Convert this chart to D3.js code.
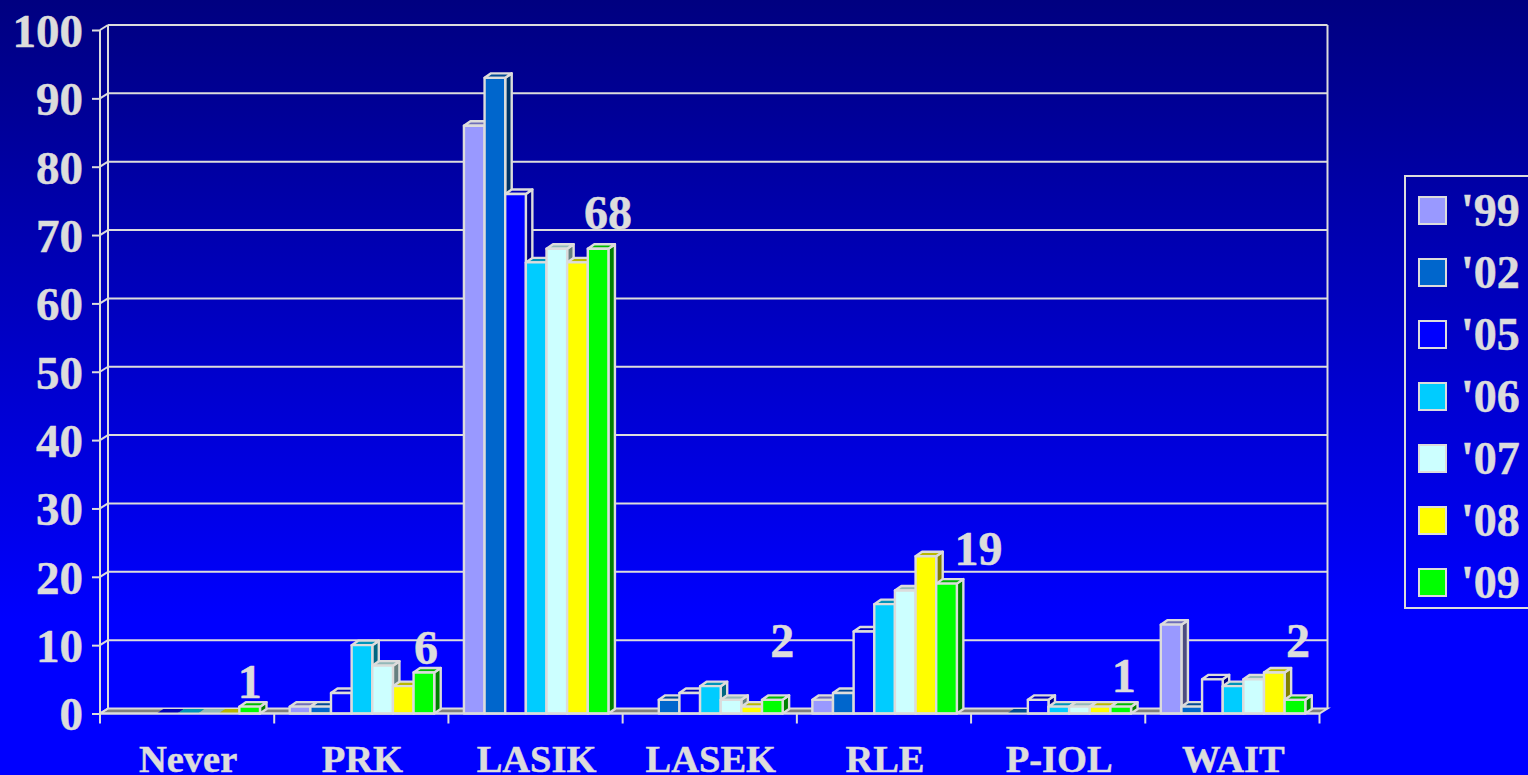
<!DOCTYPE html>
<html><head><meta charset="utf-8">
<script src="https://cdn.jsdelivr.net/npm/d3@7"></script>
<style>html,body{margin:0;padding:0;overflow:hidden;background:#00f}svg{display:block}text{stroke:#dcdcdc;stroke-width:.5px}</style>
</head><body><svg id="c" width="1528" height="775"></svg>
<script>
const categories = ["Never","PRK","LASIK","LASEK","RLE","P-IOL","WAIT"];
const seriesNames = ["'99","'02","'05","'06","'07","'08","'09"];
const seriesColors = ["#9999ff","#0066cc","#0000ff","#00ccff","#ccffff","#ffff00","#00ff00"];
const v99 = [null,1,86,null,2,null,13];
const v02 = [null,1,93,2,3,0,1];
const v05 = [0,3,76,3,12,2,5];
const v06 = [0,10,66,4,16,1,4];
const v07 = [0,7,68,2,18,1,5];
const v08 = [0,4,66,1,23,1,6];
const v09 = [1,6,68,2,19,1,2];
const allSeries = [v99,v02,v05,v06,v07,v08,v09];
const yTicks = [0,10,20,30,40,50,60,70,80,90,100];
const labelDx = [0,2,10,10,32,3,3];
const labelDy = [-9,-8,-20,-43,-19,-15,-43];

const ink = "#dcdcdc";
const serif = "'Liberation Serif','Times New Roman',serif";
const svg = d3.select("#c");
const defs = svg.append("defs");
const g = defs.append("linearGradient").attr("id","bg").attr("x1",0).attr("y1",0).attr("x2",0).attr("y2",1);
g.append("stop").attr("offset",0).attr("stop-color","#000080");
g.append("stop").attr("offset",0.8).attr("stop-color","#0000ff");
g.append("stop").attr("offset",1).attr("stop-color","#0000ff");
svg.append("rect").attr("width",1528).attr("height",775).attr("fill","url(#bg)");

const depthX = 8, depthY = 5, barDepthX = 6.5, barDepthY = 4.5;
const y = d3.scaleLinear().domain([0,100]).range([713.5,30]);
const x0 = d3.scaleBand().domain(categories).range([100,1319.5]);
const x1 = d3.scaleBand().domain(seriesNames).range([15.5,160]);
const yMax = y(100), yMin = y(0), xL = x0.range()[0], xR = x0.range()[1];

// walls and grid
const grid = svg.append("g").attr("stroke",ink).attr("stroke-width",2).attr("fill","none");
grid.append("path").attr("fill","#808080")
  .attr("d",`M${xL},${yMin}L${xL+depthX},${yMin-depthY}H${xR+depthX}L${xR},${yMin}Z`);
grid.selectAll(".g").data(yTicks.slice(1)).join("line")
  .attr("x1",xL+depthX).attr("x2",xR+depthX).attr("y1",d=>y(d)-depthY).attr("y2",d=>y(d)-depthY);
grid.selectAll(".d").data(yTicks).join("line")
  .attr("x1",xL).attr("x2",xL+depthX).attr("y1",d=>y(d)).attr("y2",d=>y(d)-depthY);
grid.append("line").attr("x1",xL+depthX).attr("x2",xL+depthX).attr("y1",yMax-depthY).attr("y2",yMin-depthY);
grid.append("line").attr("x1",xR+depthX).attr("x2",xR+depthX).attr("y1",yMax-depthY).attr("y2",yMin-depthY);

// bars
const bars = svg.append("g").attr("stroke",ink).attr("stroke-width",2.4).attr("stroke-linejoin","round");
categories.forEach((cat,ci)=>{
  seriesNames.forEach((s,si)=>{
    const v = allSeries[si][ci];
    if(v===null) return;
    const a = x0(cat)+x1(s), b = a+x1.bandwidth(), t = y(v), c = d3.color(seriesColors[si]);
    const mix = f => d3.rgb(c.r*f,c.g*f,c.b*f).formatHex();
    if(v>0){
      bars.append("path").attr("fill",mix(0.5))
        .attr("d",`M${b},${t}L${b+barDepthX},${t-barDepthY}V${yMin-barDepthY}L${b},${yMin}Z`);
    }
    bars.append("path").attr("fill",mix(0.72)).attr("stroke",v>0?ink:"none")
      .attr("d",`M${a},${t}L${a+barDepthX},${t-barDepthY}H${b+barDepthX}L${b},${t}Z`);
    if(v>0) bars.append("rect").attr("x",a).attr("y",t).attr("width",b-a).attr("height",yMin-t).attr("fill",seriesColors[si]);
  });
});

// axes
const yAxis = svg.append("g").attr("transform",`translate(${xL},0)`)
  .call(d3.axisLeft(y).tickValues(yTicks).tickSize(8).tickPadding(9).tickFormat(d3.format("d")));
yAxis.selectAll(".domain,line").attr("stroke",ink).attr("stroke-width",2);
yAxis.select(".domain").attr("d",`M0,${yMax}V${yMin}`);
yAxis.selectAll("text").attr("fill",ink).attr("font-family",serif).attr("font-weight","bold").attr("font-size",47).attr("dy","0.35em");

const xAxis = svg.append("g").attr("transform",`translate(0,${yMin})`)
  .call(d3.axisBottom(x0).tickSize(0).tickPadding(31));
xAxis.select(".domain").attr("stroke",ink).attr("stroke-width",2).attr("d",`M${xL},0H${xR}`);
xAxis.selectAll("text").attr("fill",ink).attr("font-family",serif).attr("font-weight","bold").attr("font-size",38.5).attr("dx",1);
xAxis.selectAll(".edge").data(categories.concat("end")).join("line")
  .attr("x1",d=>d==="end"?xR:x0(d)).attr("x2",d=>d==="end"?xR:x0(d))
  .attr("y1",0).attr("y2",10).attr("stroke",ink).attr("stroke-width",2);

// data labels (last series)
svg.append("g").selectAll("text").data(categories).join("text")
  .attr("x",(d,i)=>x0(d)+x1(seriesNames[6])+x1.bandwidth()/2+labelDx[i])
  .attr("y",(d,i)=>y(v09[i])+labelDy[i])
  .attr("text-anchor","middle").attr("fill",ink).attr("font-family",serif).attr("font-weight","bold").attr("font-size",48)
  .text((d,i)=>v09[i]);

// legend
const lg = svg.append("g");
lg.append("rect").attr("x",1405).attr("y",176).attr("width",140).attr("height",432).attr("fill","none").attr("stroke",ink).attr("stroke-width",2);
const ly = d3.scalePoint().domain(seriesNames).range([210.5,582.5]);
lg.selectAll("rect.s").data(seriesNames).join("rect").attr("class","s")
  .attr("x",1419).attr("y",d=>ly(d)-13.5).attr("width",27).attr("height",27)
  .attr("fill",(d,i)=>seriesColors[i]).attr("stroke",ink).attr("stroke-width",2);
lg.selectAll("text").data(seriesNames).join("text")
  .attr("x",1461).attr("y",d=>ly(d)+15.5).attr("fill",ink).attr("font-family",serif).attr("font-weight","bold").attr("font-size",46)
  .text(d=>d);
</script></body></html>
